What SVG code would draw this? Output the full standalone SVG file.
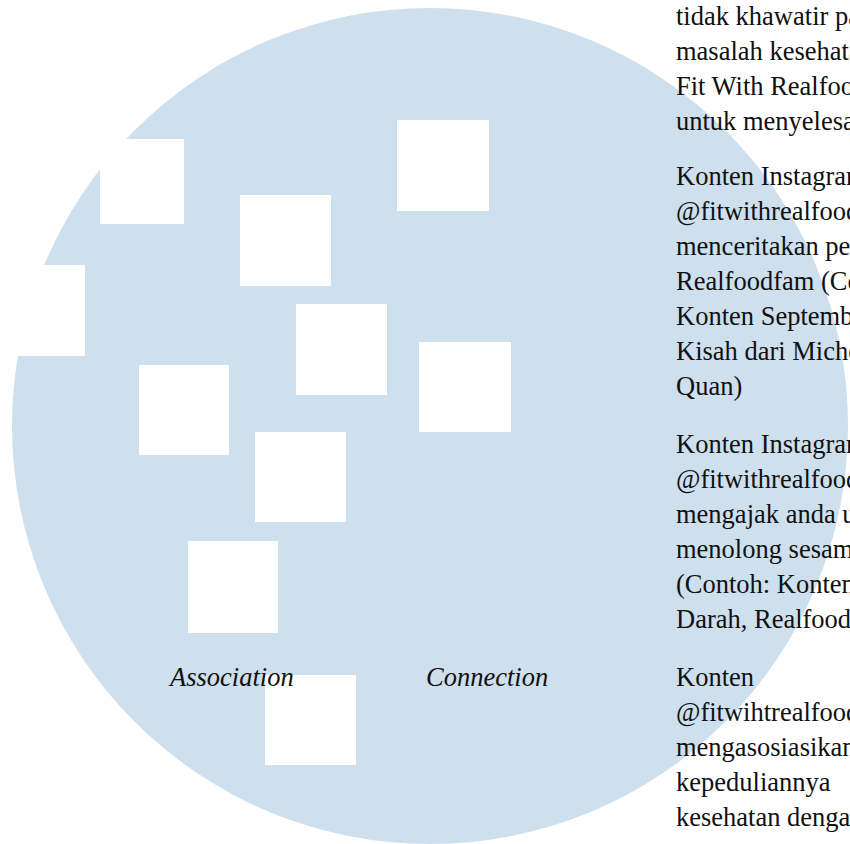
<svg xmlns="http://www.w3.org/2000/svg" width="850" height="844" viewBox="0 0 850 844">
<style>
.sq{fill:#ffffff}
.t{font-family:"Liberation Serif","Times New Roman",serif;font-size:26.5px;fill:#111111}
.i{font-style:italic}
</style>
<rect x="0" y="0" width="850" height="844" fill="#ffffff"/>
<g id="circle"><circle cx="430" cy="426" r="418" fill="#cedfee"/></g>
<g id="squares">
<rect id="sqA" class="sq" x="100" y="139" width="84" height="85"/>
<rect id="sqL" class="sq" x="-6" y="265" width="91" height="91"/>
<rect id="sqB" class="sq" x="240" y="195" width="91" height="91"/>
<rect id="sqC" class="sq" x="397" y="120" width="92" height="91"/>
<rect id="sqD" class="sq" x="296" y="304" width="91" height="91"/>
<rect id="sqE" class="sq" x="139" y="365" width="90" height="90"/>
<rect id="sqF" class="sq" x="419" y="342" width="92" height="90"/>
<rect id="sqG" class="sq" x="255" y="432" width="91" height="90"/>
<rect id="sqH" class="sq" x="188" y="541" width="90" height="92"/>
<rect id="sqI" class="sq" x="265" y="675" width="91" height="90"/>
</g>
<g id="labels">
<text class="t i" x="170" y="686">Association</text>
<text class="t i" x="426" y="686">Connection</text>
</g>
<g id="right-text" class="t">
<text x="676" y="25">tidak khawatir pa</text>
<text x="676" y="60">masalah kesehata</text>
<text x="676" y="95">Fit With Realfood</text>
<text x="676" y="130">untuk menyelesa</text>
<text x="676" y="185">Konten Instagram</text>
<text x="676" y="220">@fitwithrealfood</text>
<text x="676" y="255">menceritakan pe</text>
<text x="676" y="290">Realfoodfam (Co</text>
<text x="676" y="325">Konten Septemb</text>
<text x="676" y="360">Kisah dari Miche</text>
<text x="676" y="395">Quan)</text>
<text x="676" y="453">Konten Instagram</text>
<text x="676" y="488">@fitwithrealfood</text>
<text x="676" y="523">mengajak anda u</text>
<text x="676" y="558">menolong sesam</text>
<text x="676" y="593">(Contoh: Konten</text>
<text x="676" y="628">Darah, Realfood</text>
<text x="676" y="686">Konten</text>
<text x="676" y="721">@fitwihtrealfood</text>
<text x="676" y="756">mengasosiasikan</text>
<text x="676" y="791">kepeduliannya</text>
<text x="676" y="826">kesehatan denga</text>
</g>
</svg>
